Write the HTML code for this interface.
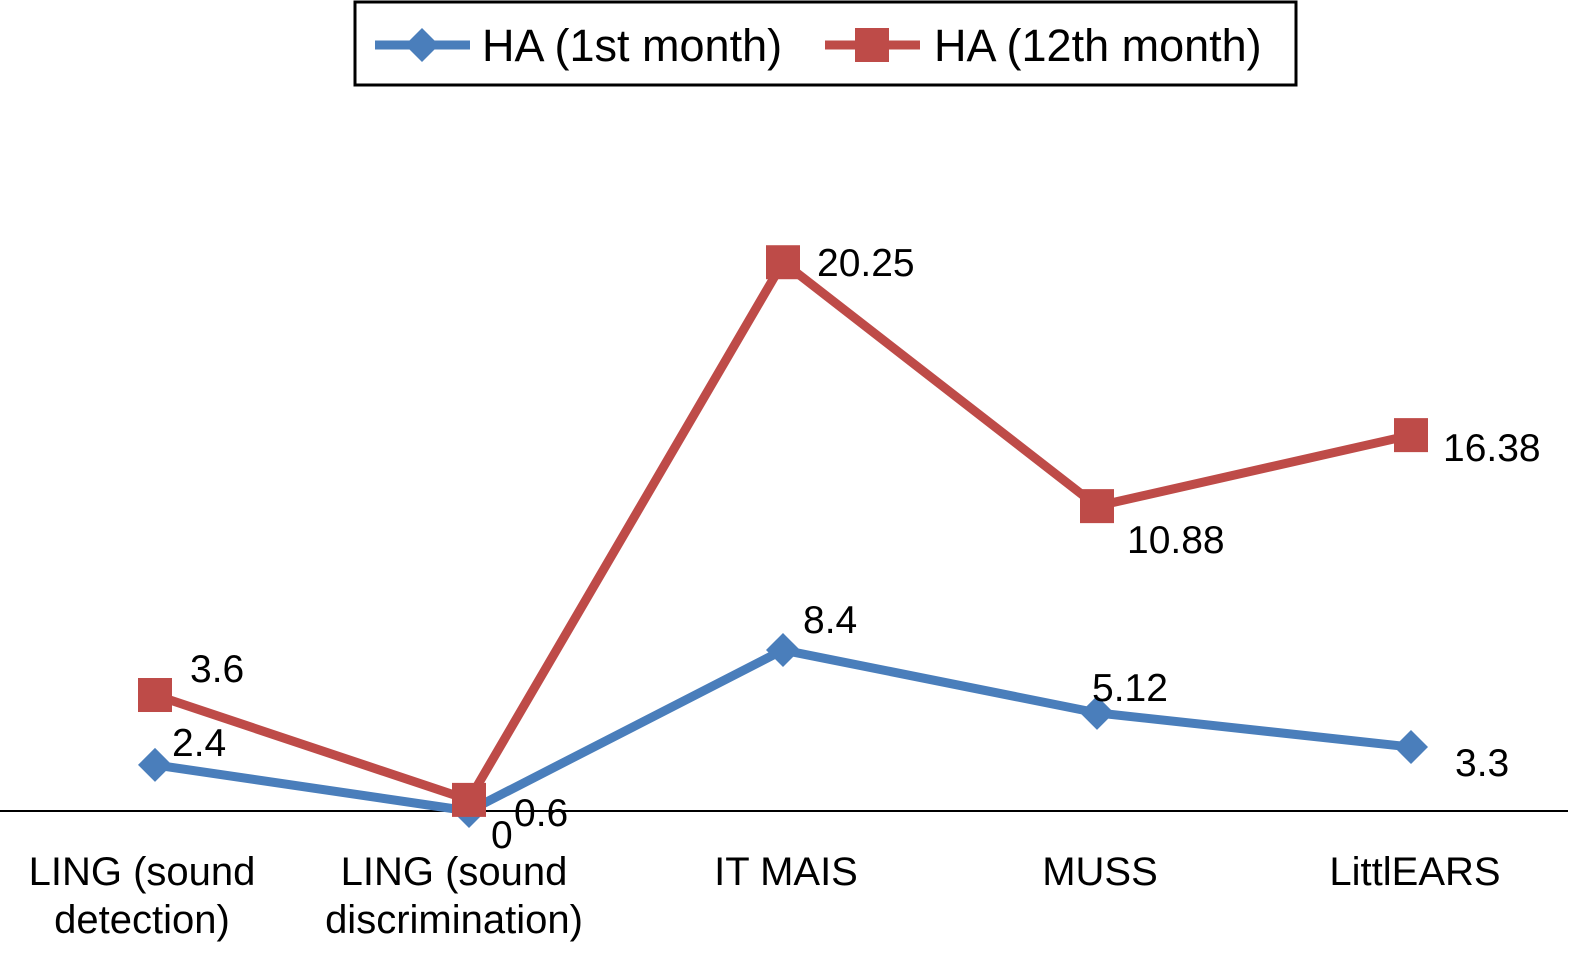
<!DOCTYPE html>
<html><head><meta charset="utf-8"><style>
html,body{margin:0;padding:0;background:#fff;}
svg{display:block;font-family:"Liberation Sans",Arial,sans-serif;}
</style></head><body>
<svg id="chart" width="1583" height="953" viewBox="0 0 1583 953">
  <g>
    <rect x="355" y="2" width="941" height="83" fill="#fff" stroke="#000" stroke-width="3"/>
    <g>
      <line x1="375" y1="45" x2="470" y2="45" stroke="#4a7ebb" stroke-width="9"/>
      <polygon points="422,28 439,45 422,62 405,45" fill="#4a7ebb"/>
      <text x="482" y="61" font-size="45" fill="#000">HA (1st month)</text>
    </g>
    <g>
      <line x1="825" y1="45" x2="920" y2="45" stroke="#be4b48" stroke-width="9"/>
      <rect x="855" y="28" width="34" height="34" fill="#be4b48"/>
      <text x="934" y="61" font-size="45" fill="#000">HA (12th month)</text>
    </g>
  </g>
  <line x1="0" y1="811" x2="1568" y2="811" stroke="#000" stroke-width="2"/>
  <g id="xlabels"></g>
  <g id="series"></g>
</svg>
<script>
const categories = [["LING (sound","detection)"],["LING (sound","discrimination)"],["IT MAIS"],["MUSS"],["LittlEARS"]];
const month1Values = [1.70, 0, 5.94, 3.62, 2.36];
const month12Values = [4.28, 0.41, 20.25, 11.25, 13.87];
const month1Labels = ["2.4","0","8.4","5.12","3.3"];
const month12Labels = ["3.6","0.6","20.25","10.88","16.38"];

const NS="http://www.w3.org/2000/svg";
const xPos = i => 155 + i*314;
const yPos = v => 811 - v*27.1;
const labelShift=[-13,-15,3,3,4];
const m1Off=[[17,-22],[22,24],[20,-30],[-5,-25],[44,16]];
const m12Off=[[35,-26],[45,13],[34,1],[30,34],[32,13]];
function mk(tag,attrs){const e=document.createElementNS(NS,tag);for(const k in attrs)e.setAttribute(k,attrs[k]);return e;}
const xl=document.getElementById('xlabels');
categories.forEach((c,i)=>{
  const t=mk('text',{'text-anchor':'middle','font-size':'40'});
  
  
  c.forEach((ln,j)=>{const s=mk('tspan',{x:xPos(i)+labelShift[i],y:885+j*48});s.textContent=ln;t.appendChild(s);});
  xl.appendChild(t);
});
const g=document.getElementById('series');
function drawSeries(vals,color,marker,name){
  const pl=mk('polyline',{points:vals.map((v,i)=>xPos(i)+','+yPos(v)).join(' '),fill:'none',stroke:color,'stroke-width':'9','stroke-linejoin':'round'});
  
  
  g.appendChild(pl);
  vals.forEach((v,i)=>{
    const x=xPos(i),y=yPos(v);let m;
    if(marker==='d') m=mk('polygon',{points:`${x},${y-17} ${x+17},${y} ${x},${y+17} ${x-17},${y}`,fill:color});
    else m=mk('rect',{x:x-17,y:y-17,width:34,height:34,fill:color});
    
    
    g.appendChild(m);
  });
}
function drawLabels(vals,labels,offs,name){
  vals.forEach((v,i)=>{
    const t=mk('text',{x:xPos(i)+offs[i][0],y:yPos(v)+offs[i][1]+13,'font-size':'39'});
    t.textContent=labels[i];
    
    
    g.appendChild(t);
  });
}
drawSeries(month1Values,'#4a7ebb','d','ha-1st-month');
drawSeries(month12Values,'#be4b48','s','ha-12th-month');
drawLabels(month1Values,month1Labels,m1Off,'ha-1st-month');
drawLabels(month12Values,month12Labels,m12Off,'ha-12th-month');
</script>
</body></html>
